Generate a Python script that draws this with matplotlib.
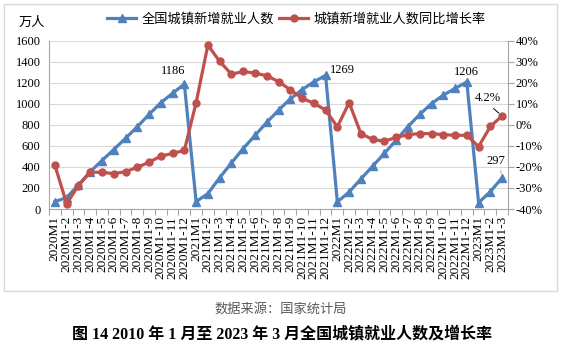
import matplotlib
matplotlib.use("Agg")
import matplotlib.pyplot as plt
from matplotlib.patches import Rectangle
from matplotlib.lines import Line2D
import numpy as np

plt.rcParams['font.family'] = ['Liberation Serif', 'Noto Sans CJK SC', 'DejaVu Sans']

categories = [
    "2020M1", "2020M1-2", "2020M1-3", "2020M1-4", "2020M1-5", "2020M1-6",
    "2020M1-7", "2020M1-8", "2020M1-9", "2020M1-10", "2020M1-11", "2020M1-12",
    "2021M1", "2021M1-2", "2021M1-3", "2021M1-4", "2021M1-5", "2021M1-6",
    "2021M1-7", "2021M1-8", "2021M1-9", "2021M1-10", "2021M1-11", "2021M1-12",
    "2022M1", "2022M1-2", "2022M1-3", "2022M1-4", "2022M1-5", "2022M1-6",
    "2022M1-7", "2022M1-8", "2022M1-9", "2022M1-10", "2022M1-11", "2022M1-12",
    "2023M1", "2023M1-2", "2023M1-3",
]

# 全国城镇新增就业人数（万人）
employment = [
    70, 108, 229, 354, 460, 564, 671, 781, 898, 1009, 1099, 1186,
    70, 146, 297, 437, 574, 698, 822, 938, 1045, 1133, 1207, 1269,
    68, 160, 285, 406, 529, 654, 783, 898, 1001, 1081, 1145, 1206,
    60, 165, 297,
]

# 城镇新增就业人数同比增长率（%）
growth = [
    -19.2, -37.5, -28.9, -22.5, -22.6, -23.2, -22.3, -20.2, -17.8, -14.9, -13.6, -12.2,
    10.5, 37.8, 30.1, 24.0, 25.3, 24.5, 23.3, 20.5, 16.6, 12.6, 10.2, 7.0,
    -1.0, 10.5, -4.2, -7.0, -7.8, -6.0, -4.7, -4.2, -4.2, -4.7, -5.0, -5.0,
    -10.4, -0.8, 4.2,
]

left_ticks = [0, 200, 400, 600, 800, 1000, 1200, 1400, 1600]
right_ticks = [-40, -30, -20, -10, 0, 10, 20, 30, 40]
right_ticklabels = ["-40%", "-30%", "-20%", "-10%", "0%", "10%", "20%", "30%", "40%"]

series_names = ["全国城镇新增就业人数", "城镇新增就业人数同比增长率"]

BLUE = "#4F81BD"
RED = "#C0504D"
GRAY = "#A6A6A6"

W, H = 562, 348
fig = plt.figure(figsize=(W / 100, H / 100), dpi=100)

# outer frame
fig.add_artist(Rectangle((4 / W, 1 - 291 / H), (557 - 4) / W, (291 - 4) / H,
                         transform=fig.transFigure, fill=False,
                         edgecolor="#D9D9D9", lw=1.0))

ax = fig.add_axes([49 / W, 1 - 209 / H, 459 / W, 168.5 / H])
x = np.arange(len(categories))

ax.plot(x, employment, color=BLUE, lw=2.3, marker="^", ms=5.5, zorder=3)
ax.set_xlim(-0.5, len(categories) - 0.5)
ax.set_ylim(0, 1600)
ax.set_yticks(left_ticks)
ax.grid(axis="y", color="#D9D9D9", lw=0.8)
ax.set_axisbelow(True)
for s in ["top", "right"]:
    ax.spines[s].set_visible(False)
for s in ["left", "bottom"]:
    ax.spines[s].set_color(GRAY)
    ax.spines[s].set_linewidth(0.8)
ax.tick_params(axis="y", length=0, pad=6.0, labelsize=9)
ax.set_xticks(x)
ax.set_xticklabels(categories, rotation=90, fontsize=9.6)
ax.tick_params(axis="x", which="major", length=0, pad=5.0)
ax.set_xticks(np.arange(-0.5, len(categories), 1), minor=True)
ax.tick_params(axis="x", which="minor", length=4, color=GRAY, width=0.8)

ax2 = ax.twinx()
ax2.plot(x, growth, color=RED, lw=2.3, marker="o", ms=5, zorder=3)
ax2.set_ylim(-40, 40)
ax2.set_yticks(right_ticks)
ax2.set_yticklabels(right_ticklabels)
ax2.tick_params(axis="y", length=4, color=GRAY, width=0.8, pad=1.5, labelsize=9)
for s in ["top", "left", "bottom"]:
    ax2.spines[s].set_visible(False)
ax2.spines["right"].set_color(GRAY)
ax2.spines["right"].set_linewidth(0.8)

# data labels
ax.annotate("1186", xy=(11, employment[11]), xytext=(-11.5, 13), textcoords="offset pixels",
            ha="center", va="center", fontsize=9)
ax.annotate("1269", xy=(23, employment[23]), xytext=(17, 5), textcoords="offset pixels",
            ha="center", va="center", fontsize=9)
ax.annotate("1206", xy=(35, employment[35]), xytext=(0, 10), textcoords="offset pixels",
            ha="center", va="center", fontsize=9)
ax.annotate("297", xy=(38, employment[38]), xytext=(-6, 17), textcoords="offset pixels",
            ha="center", va="center", fontsize=9,
            arrowprops=dict(arrowstyle="-", color="#A6A6A6", lw=0.7,
                            relpos=(0.7, 0.0), shrinkA=1, shrinkB=3))
ax2.annotate("4.2%", xy=(38, growth[38]), xytext=(-14, 18), textcoords="offset pixels",
             ha="center", va="center", fontsize=9,
             arrowprops=dict(arrowstyle="-", color="black", lw=0.7,
                             relpos=(0.5, 0.0), shrinkA=2, shrinkB=3))

handles = [Line2D([], [], color=BLUE, lw=2.3, marker="^", ms=5.5),
           Line2D([], [], color=RED, lw=2.3, marker="o", ms=5)]
fig.legend(handles, series_names, loc="center", bbox_to_anchor=(296.5 / W, 1 - 19 / H),
           ncol=2, frameon=False, fontsize=9.5, handlelength=2.2, handletextpad=0.4,
           columnspacing=0.4, borderpad=0, borderaxespad=0)

fig.text(32 / W, 1 - 22.7 / H, "万人", ha="center", va="center", fontsize=9.5,
         family="Noto Sans CJK SC")
fig.text(280.5 / W, 1 - 309 / H, "数据来源：国家统计局", ha="center", va="center",
         fontsize=9.5, color="#595959")
fig.text(282.5 / W, 1 - 334 / H, "图 14 2010 年 1 月至 2023 年 3 月全国城镇就业人数及增长率",
         ha="center", va="center", fontsize=11.5, fontweight="bold")

fig.savefig("out.png", dpi=100)
